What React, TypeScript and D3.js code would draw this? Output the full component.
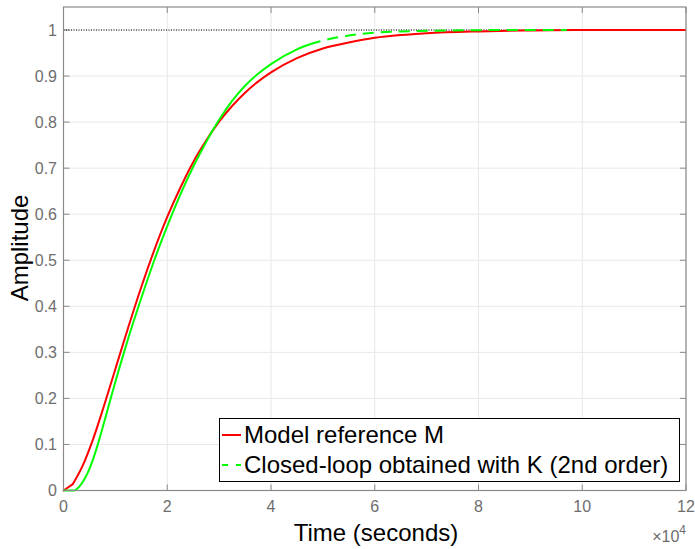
import React from "react";
import * as d3 from "d3";

// Time in units of 1e4 seconds
const redT = [0, 0.18, 0.37, 0.55, 0.75, 1.0, 1.25, 1.5, 1.75, 2.0, 2.25, 2.5, 2.75, 3.0, 3.25, 3.5, 3.75, 4.0, 4.5, 5.0, 5.5, 6.0, 6.5, 7.0, 8.0, 9.0, 10.0, 12.0];
const redY = [0, 0.014, 0.054, 0.105, 0.173, 0.264, 0.355, 0.442, 0.522, 0.594, 0.657, 0.713, 0.76, 0.801, 0.835, 0.864, 0.888, 0.908, 0.939, 0.96, 0.973, 0.983, 0.989, 0.993, 0.997, 0.999, 1.0, 1.0];

const greenT = [0, 0.2, 0.3, 0.4, 0.5, 0.6, 0.7, 0.8, 0.9, 1.0, 1.1, 1.25, 1.5, 1.75, 2.0, 2.25, 2.5, 2.75, 3.0, 3.25, 3.5, 3.75, 4.0, 4.5, 4.75, 5.0, 5.5, 6.0, 6.5, 7.5, 8.5, 9.7];
const greenY = [0, 0.0, 0.008, 0.024, 0.047, 0.078, 0.115, 0.155, 0.196, 0.236, 0.275, 0.331, 0.418, 0.5, 0.574, 0.642, 0.703, 0.757, 0.805, 0.846, 0.879, 0.905, 0.926, 0.958, 0.969, 0.977, 0.988, 0.994, 0.997, 0.999, 1.0, 1.0];
const greenDashFrom = 4.75;

const xTicks = [0, 2, 4, 6, 8, 10, 12];
const yTicks = [0, 0.1, 0.2, 0.3, 0.4, 0.5, 0.6, 0.7, 0.8, 0.9, 1];
const seriesNames = ["Model reference M", "Closed-loop obtained with K (2nd order)"];
const xLabel = "Time (seconds)";
const yLabel = "Amplitude";

const FONT = "'Liberation Sans', Arial, Helvetica, sans-serif";

export default function App() {
  const W = 695, H = 549;
  const L = 63.5, R = 686, T = 7, B = 490.5;
  const x = d3.scaleLinear().domain([0, 12]).range([L, R]);
  const y = d3.scaleLinear().domain([0, 1.05]).range([B, T]);
  const line = d3.line<[number, number]>().x(d => x(d[0])).y(d => y(d[1])).curve(d3.curveMonotoneX);
  const lineLin = d3.line<[number, number]>().x(d => x(d[0])).y(d => y(d[1]));

  const red: [number, number][] = redT.map((t, i) => [t, redY[i]]);
  const green: [number, number][] = greenT.map((t, i) => [t, greenY[i]]);
  const redStart = red.slice(0, 2);
  const redRest = red.slice(1);
  const greenSolid = green.filter(d => d[0] <= greenDashFrom);
  const greenDashed = green.filter(d => d[0] >= greenDashFrom);

  const axisColor = "#8a8a8a";
  const tickText = "#6e6e6e";
  const gridColor = "#e8e8e8";
  const tl = 6;

  return (
    <svg width={W} height={H} style={{ position: "absolute", left: 0, top: 0, background: "#fff" }}>
      <rect x={0} y={0} width={W} height={H} fill="#fff" />
      {/* grid */}
      {xTicks.map(t => (
        <line key={"gx" + t} x1={x(t)} x2={x(t)} y1={T} y2={B} stroke={gridColor} strokeWidth={1} />
      ))}
      {yTicks.map(t => (
        <line key={"gy" + t} x1={L} x2={R} y1={y(t)} y2={y(t)} stroke={gridColor} strokeWidth={1} />
      ))}
      {/* ticks */}
      {xTicks.map(t => (
        <g key={"tx" + t}>
          <line x1={x(t)} x2={x(t)} y1={B} y2={B - tl} stroke={axisColor} strokeWidth={1} />
          <line x1={x(t)} x2={x(t)} y1={T} y2={T + tl} stroke={axisColor} strokeWidth={1} />
          <text x={x(t)} y={512} textAnchor="middle" fontFamily={FONT} fontSize={16} fill={tickText}>{t}</text>
        </g>
      ))}
      {yTicks.map(t => (
        <g key={"ty" + t}>
          <line x1={L} x2={L + tl} y1={y(t)} y2={y(t)} stroke={axisColor} strokeWidth={1} />
          <line x1={R} x2={R - tl} y1={y(t)} y2={y(t)} stroke={axisColor} strokeWidth={1} />
          <text x={57} y={y(t)} dy="0.35em" textAnchor="end" fontFamily={FONT} fontSize={16} fill={tickText}>{t}</text>
        </g>
      ))}
      {/* reference line at 1 */}
      <line x1={L} x2={R} y1={y(1)} y2={y(1)} stroke="#000" strokeWidth={1} strokeDasharray="1,1.5" />
      {/* series */}
      <path d={lineLin(redStart) || ""} fill="none" stroke="#ff0000" strokeWidth={2} strokeLinecap="round" />
      <path d={line(redRest) || ""} fill="none" stroke="#ff0000" strokeWidth={2} strokeLinejoin="round" />
      <path d={line(greenSolid) || ""} fill="none" stroke="#00ff00" strokeWidth={2} strokeLinejoin="round" />
      <path d={line(greenDashed) || ""} fill="none" stroke="#00ff00" strokeWidth={2} strokeDasharray="11,7" />
      {/* axes box */}
      <rect x={L} y={T} width={R - L} height={B - T} fill="none" stroke={axisColor} strokeWidth={1.2} />
      {/* labels */}
      <text x={376} y={541} textAnchor="middle" fontFamily={FONT} fontSize={24} fill="#000">{xLabel}</text>
      <text transform={`translate(28, 248) rotate(-90)`} textAnchor="middle" fontFamily={FONT} fontSize={24} fill="#000">{yLabel}</text>
      <text x={686} y={542} textAnchor="end" fontFamily={FONT} fontSize={16} fill={tickText}>
        ×10<tspan dy={-8} fontSize={12}>4</tspan>
      </text>
      {/* legend */}
      <g>
        <rect x={219.5} y={418.5} width={460} height={63} fill="#fff" stroke="#000" strokeWidth={1} />
        <line x1={222} x2={241} y1={435} y2={435} stroke="#ff0000" strokeWidth={2} />
        <text x={244} y={435} dy="0.35em" fontFamily={FONT} fontSize={24} fill="#000">{seriesNames[0]}</text>
        <line x1={222} x2={241} y1={465} y2={465} stroke="#00ff00" strokeWidth={2} strokeDasharray="6,8" />
        <text x={244} y={465} dy="0.35em" fontFamily={FONT} fontSize={24} fill="#000">{seriesNames[1]}</text>
      </g>
    </svg>
  );
}
